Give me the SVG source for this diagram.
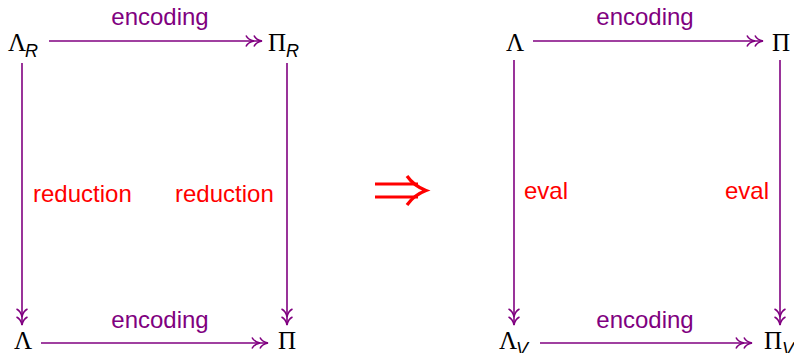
<svg xmlns="http://www.w3.org/2000/svg" width="794" height="353" viewBox="0 0 794 353">
<style>
.conn{stroke:#800080;stroke-width:1.6;fill:none;marker-end:url(#dbl)}
.lbl{font-family:"Liberation Sans",Arial,sans-serif;font-size:24px;fill:#800080;text-anchor:middle}
.red{font-family:"Liberation Sans",Arial,sans-serif;font-size:24px;fill:#ff0000}
.gk{font-family:"Liberation Serif","Times New Roman",serif;font-size:25px;fill:#000}
.sub{font-family:"Liberation Sans",Arial,sans-serif;font-style:italic;font-size:18px;fill:#000}
</style>
<defs>
<marker id="dbl" markerUnits="userSpaceOnUse" viewBox="-18 -8 22 16" refX="0" refY="0" markerWidth="22" markerHeight="16" orient="auto" overflow="visible">
<path d="M-8,-5.5 C-6.5,-2.2 -2.5,-0.5 0,0 C-2.5,0.5 -6.5,2.2 -8,5.5 M-16,-5.5 C-14.5,-2.2 -10.5,-0.5 -8,0 C-10.5,0.5 -14.5,2.2 -16,5.5" fill="none" stroke="#800080" stroke-width="1.6"/>
</marker>
</defs>
<g id="connectors">
<line class="conn" x1="49" y1="41" x2="262" y2="41"/>
<line class="conn" x1="41" y1="343" x2="268" y2="343"/>
<line class="conn" x1="22" y1="63" x2="22" y2="325"/>
<line class="conn" x1="287" y1="63" x2="287" y2="325"/>
<line class="conn" x1="533" y1="41" x2="763" y2="41"/>
<line class="conn" x1="540" y1="343" x2="752" y2="343"/>
<line class="conn" x1="514" y1="60" x2="514" y2="325"/>
<line class="conn" x1="780" y1="60" x2="780" y2="325"/>
<text class="lbl" x="160" y="25">encoding</text>
<text class="lbl" x="160" y="328">encoding</text>
<text class="red" x="33" y="202">reduction</text>
<text class="red" x="175" y="202">reduction</text>
<text class="lbl" x="645" y="25">encoding</text>
<text class="lbl" x="645" y="328">encoding</text>
<text class="red" x="524" y="199">eval</text>
<text class="red" x="725" y="199">eval</text>
</g>
<g id="lambdaR"><text class="gk" x="8" y="51">Λ</text><text class="sub" x="25" y="57">R</text></g>
<g id="piR"><text class="gk" x="268" y="51">Π</text><text class="sub" x="286" y="57">R</text></g>
<g id="lambdaL"><text class="gk" x="14" y="349">Λ</text></g>
<g id="piL"><text class="gk" x="278" y="349">Π</text></g>
<g id="lambda2"><text class="gk" x="506" y="51">Λ</text></g>
<g id="pi2"><text class="gk" x="772" y="51">Π</text></g>
<g id="lambdaV"><text class="gk" x="499" y="349">Λ</text><text class="sub" x="516" y="355">V</text></g>
<g id="piV"><text class="gk" x="764" y="349">Π</text><text class="sub" x="782" y="355">V</text></g>
<g id="implies" stroke="#ff0000" stroke-width="3.2" fill="none">
<path d="M375,184 H418 M375,197 H418"/>
<path d="M407,176 Q414,186 426,190.5 Q414,195 407,205"/>
</g>
</svg>
